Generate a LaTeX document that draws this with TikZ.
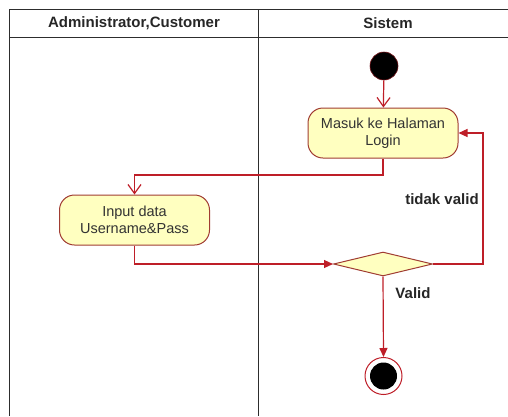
\documentclass[tikz,border=0pt]{standalone}
\usepackage{fontspec}
\setmainfont{Liberation Sans}
\usepackage{xcolor}
\usetikzlibrary{arrows.meta,positioning,calc,shapes.geometric}

\definecolor{flowred}{RGB}{190,30,40}
\definecolor{boxedge}{RGB}{160,60,50}
\definecolor{boxfill}{RGB}{255,255,192}
\definecolor{lanegray}{RGB}{45,45,45}

\begin{document}
\begin{tikzpicture}[x=1pt,y=-1pt,
  lane/.style={draw=lanegray,line width=1.6pt},
  lanetitle/.style={font=\fontsize{15}{17}\selectfont\bfseries,text=black!85},
  action/.style={rectangle,rounded corners=15pt,draw=boxedge,fill=boxfill,line width=1pt,
    minimum width=150pt,minimum height=50pt,align=center,
    font=\fontsize{14.5}{17}\selectfont,text=black!80},
  decision/.style={diamond,draw=boxedge,fill=boxfill,line width=1pt,aspect=4.1,
    minimum width=99pt,minimum height=24pt,inner sep=0pt},
  initial/.style={circle,fill=black,draw=flowred!60!black,line width=.6pt,minimum size=28pt,inner sep=0pt},
  final/.style={circle,draw=flowred,fill=white,line width=1pt,minimum size=37pt,inner sep=0pt},
  guard/.style={font=\fontsize{15}{17}\selectfont\bfseries,text=black!85},
  flow/.style={draw=flowred,line width=1.2pt,-{Triangle[length=9pt,width=8pt]}},
  openflow/.style={draw=flowred,line width=1.2pt,-{Straight Barb[length=9pt,width=13pt]}}]
\useasboundingbox (0,0) rectangle (508,416);

% swimlanes
\draw[lane] (9.5,416) -- (9.5,9.5) -- (508,9.5);
\draw[lane] (9.5,37.5) -- (508,37.5);
\draw[lane] (258.5,9.5) -- (258.5,416);
\node[lanetitle] (laneA) at (134,23.5) {Administrator,Customer};
\node[lanetitle] (laneB) at (388,23.5) {Sistem};

% states
\node[initial] (start) at (384,66) {};
\node[action] (login) at (383,133) {Masuk ke Halaman\\Login};
\node[action] (input) at (134.5,220) {Input data\\Username\&Pass};
\node[decision] (cek) at (383,264) {};
\node[final] (stop) at (383.5,376) {};
\fill (stop) circle (13.5pt);

\coordinate (b1) at (383,175);
\coordinate (b2) at (134.5,175);
\coordinate (b3) at (134.5,264);
\coordinate (b4) at (483,264);
\coordinate (b5) at (483,133);

% transitions
\draw[openflow] (start) -- (login);
\draw[openflow] (login.south) -- (b1) -- (b2) -- (input.north);
\draw[flow] (input.south) -- (b3) -- (cek.west);
\draw[flow] (cek.east) -- (b4) -- (b5) -- (login.east);
\draw[flow] (cek.south) -- (stop.north);

\node[guard] at (442,199) {tidak valid};
\node[guard] at (413,293) {Valid};
\end{tikzpicture}
\end{document}
